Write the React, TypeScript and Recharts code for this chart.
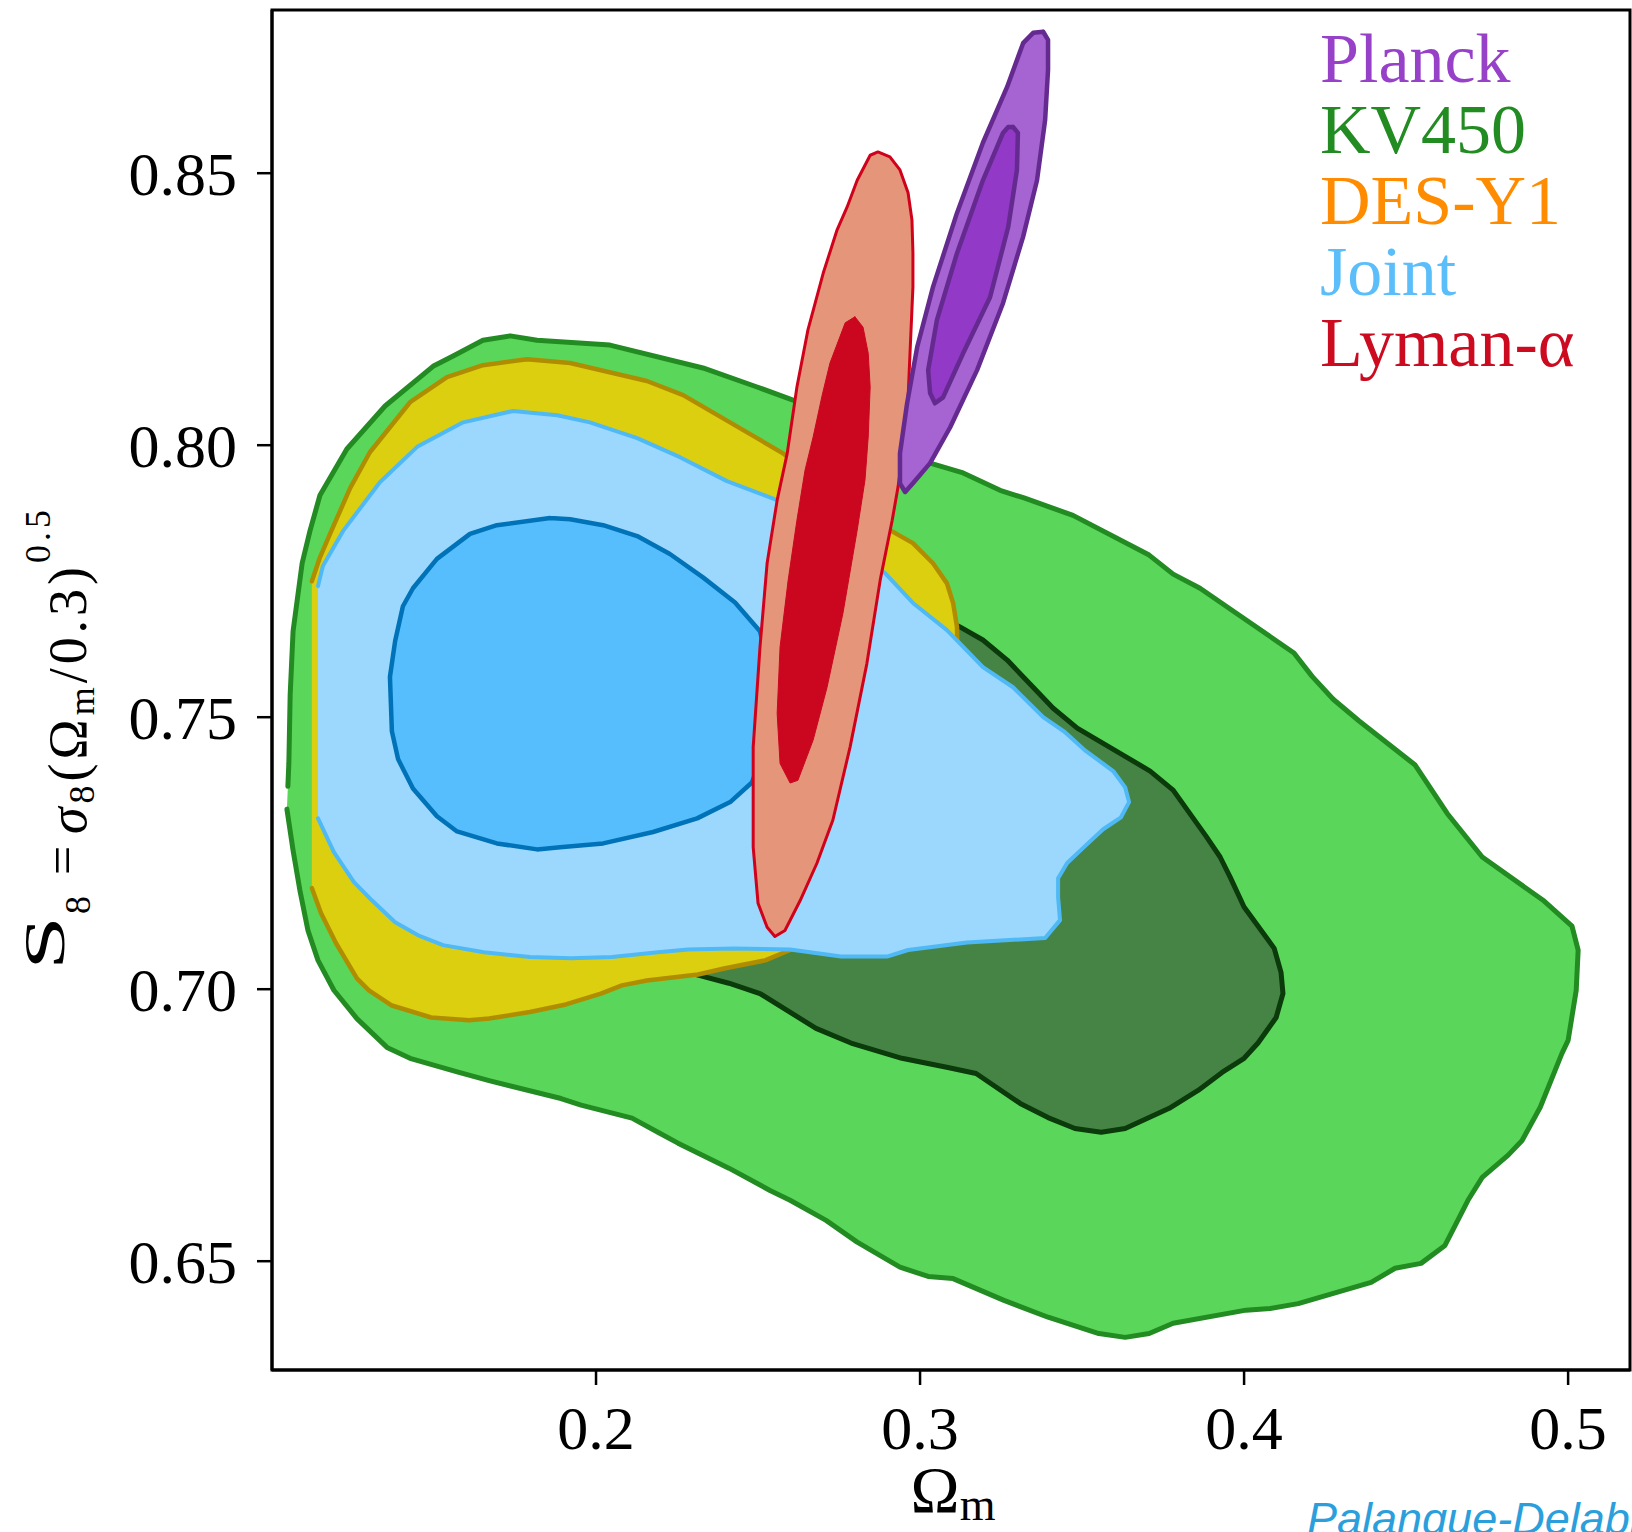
import React from 'react';
import { ScatterChart, Scatter, XAxis, YAxis, ReferenceArea, Legend } from 'recharts';

type P = [number, number];

// KV450 outer (2 sigma) contour, starts/ends at the small gap on the left edge
const kv450Outer: P[] = [
  [0.1046, 0.7331], [0.1065, 0.7255], [0.1086, 0.7182], [0.1111, 0.7108], [0.1142, 0.7053], [0.1191, 0.6998],
  [0.1262, 0.6946], [0.1355, 0.6893], [0.1426, 0.6873], [0.1577, 0.6847], [0.167, 0.6832], [0.1892, 0.6799],
  [0.1954, 0.6787], [0.2111, 0.6763], [0.2191, 0.6737], [0.2253, 0.6717], [0.241, 0.6671], [0.2537, 0.663],
  [0.2599, 0.6612], [0.271, 0.6575], [0.2806, 0.6535], [0.2938, 0.6489], [0.3025, 0.6472], [0.3102, 0.6468],
  [0.3259, 0.6428], [0.3395, 0.6397], [0.3552, 0.6367], [0.3633, 0.636], [0.3707, 0.6367], [0.3781, 0.6386],
  [0.4006, 0.641], [0.408, 0.6413], [0.4167, 0.6422], [0.4392, 0.6461], [0.4466, 0.6487], [0.4546, 0.6496],
  [0.462, 0.6529], [0.4691, 0.6612], [0.4735, 0.6654], [0.4815, 0.6695], [0.4858, 0.6722], [0.4914, 0.6783],
  [0.4981, 0.6882], [0.5, 0.6906], [0.5025, 0.6998], [0.5031, 0.7072], [0.5012, 0.7116], [0.4926, 0.7162],
  [0.4735, 0.7243], [0.4627, 0.7323], [0.4528, 0.7412], [0.4355, 0.7493], [0.4275, 0.7533], [0.421, 0.7575],
  [0.4154, 0.7618], [0.3957, 0.7699], [0.3864, 0.7737], [0.3781, 0.7763], [0.3707, 0.7798], [0.3472, 0.7871],
  [0.3321, 0.7903], [0.3247, 0.7917], [0.3133, 0.7949], [0.3031, 0.7967], [0.2929, 0.7987], [0.2608, 0.8083],
  [0.2497, 0.8107], [0.233, 0.8142], [0.2043, 0.8184], [0.1818, 0.8193], [0.1735, 0.8201], [0.1651, 0.8193],
  [0.1559, 0.8164], [0.1497, 0.8145], [0.1349, 0.8072], [0.1231, 0.7993], [0.1148, 0.7908], [0.1117, 0.7842],
  [0.1093, 0.7783], [0.1065, 0.7658], [0.1056, 0.754], [0.1052, 0.7415], [0.1049, 0.7373],
];

// KV450 inner (1 sigma) contour
const kv450Inner: P[] = [
  [0.2722, 0.7715], [0.3006, 0.7702], [0.3123, 0.7666], [0.3194, 0.7642], [0.3269, 0.7605], [0.3349, 0.7555],
  [0.341, 0.7517], [0.3485, 0.748], [0.3633, 0.7428], [0.371, 0.7401], [0.3781, 0.7366], [0.3883, 0.7281],
  [0.3926, 0.7243], [0.3957, 0.7206], [0.4, 0.7151], [0.4093, 0.7075], [0.4114, 0.7031], [0.412, 0.6992],
  [0.4099, 0.6948], [0.4043, 0.6901], [0.4, 0.6873], [0.3932, 0.6847], [0.3858, 0.6814], [0.3769, 0.6781],
  [0.3633, 0.6744], [0.3559, 0.6737], [0.3478, 0.6744], [0.3395, 0.6764], [0.3309, 0.679], [0.3173, 0.6845],
  [0.3086, 0.6856], [0.2944, 0.6873], [0.2787, 0.6901], [0.2679, 0.6928], [0.2506, 0.6992], [0.241, 0.7011],
  [0.2315, 0.7026], [0.2136, 0.706], [0.1951, 0.7108], [0.1796, 0.72], [0.175, 0.7347], [0.1827, 0.7476],
  [0.2012, 0.7568], [0.2321, 0.766],
];

// DES-Y1 outer contour (open at the prior edge on the left)
const desOuter: P[] = [
  [0.1123, 0.775], [0.1148, 0.7794], [0.1179, 0.7837], [0.1241, 0.7921], [0.1302, 0.7987], [0.1426, 0.8079],
  [0.154, 0.8125], [0.1651, 0.8147], [0.1787, 0.8158], [0.192, 0.8151], [0.2157, 0.8118], [0.2269, 0.8092],
  [0.2497, 0.8013], [0.2577, 0.7985], [0.2892, 0.7849], [0.2978, 0.782], [0.304, 0.7783], [0.3083, 0.7746],
  [0.3102, 0.771], [0.3114, 0.7666], [0.3117, 0.7568], [0.3062, 0.7421], [0.2938, 0.7255], [0.2784, 0.7145],
  [0.2599, 0.7072], [0.2522, 0.7053], [0.2395, 0.7038], [0.2315, 0.7027], [0.2157, 0.7016], [0.208, 0.7007],
  [0.2015, 0.6992], [0.1907, 0.6972], [0.1796, 0.6958], [0.167, 0.6946], [0.1608, 0.6943], [0.1491, 0.6948],
  [0.137, 0.697], [0.1299, 0.6998], [0.1262, 0.702], [0.1198, 0.7084], [0.1151, 0.714], [0.1123, 0.7186],
];

// Joint outer contour (open at the prior edge on the left)
const jointOuter: P[] = [
  [0.1142, 0.7741], [0.1157, 0.7778], [0.1219, 0.7842], [0.1333, 0.7932], [0.1448, 0.7997], [0.159, 0.8042],
  [0.1744, 0.8063], [0.188, 0.8055], [0.1981, 0.8042], [0.2127, 0.8013], [0.2259, 0.7978], [0.2404, 0.7934],
  [0.2559, 0.7899], [0.2722, 0.7835], [0.2892, 0.7765], [0.2978, 0.771], [0.3083, 0.766], [0.3194, 0.7592],
  [0.3287, 0.7555], [0.338, 0.75], [0.3444, 0.7474], [0.3509, 0.7439], [0.3596, 0.7401], [0.3633, 0.7371],
  [0.3645, 0.7344], [0.362, 0.7316], [0.3565, 0.7294], [0.3509, 0.7263], [0.3454, 0.7232], [0.3426, 0.7204],
  [0.3426, 0.7169], [0.3432, 0.7127], [0.3386, 0.7094], [0.3145, 0.7086], [0.2963, 0.7072], [0.2898, 0.706],
  [0.2756, 0.706], [0.2599, 0.7073], [0.2426, 0.7075], [0.2284, 0.7073], [0.2191, 0.7068], [0.2049, 0.7059],
  [0.1923, 0.7057], [0.1796, 0.7059], [0.1654, 0.7068], [0.1528, 0.7081], [0.1451, 0.7099], [0.138, 0.7123],
  [0.1309, 0.7163], [0.1253, 0.7197], [0.1191, 0.7252], [0.1142, 0.7314],
];

// Joint inner contour
const jointInner: P[] = [
  [0.1858, 0.7866], [0.192, 0.7864], [0.2022, 0.7853], [0.2127, 0.7833], [0.2228, 0.78], [0.233, 0.7757],
  [0.2429, 0.7711], [0.2506, 0.7658], [0.2543, 0.7568], [0.2531, 0.7458], [0.2481, 0.738], [0.2414, 0.7344],
  [0.2312, 0.7314], [0.2176, 0.7289], [0.2022, 0.7268], [0.1889, 0.7261], [0.1818, 0.7257], [0.1694, 0.7268],
  [0.1571, 0.729], [0.1509, 0.7318], [0.1435, 0.7369], [0.1389, 0.7423], [0.137, 0.7474], [0.1364, 0.7574],
  [0.138, 0.764], [0.1404, 0.7704], [0.1435, 0.7737], [0.1509, 0.7791], [0.1611, 0.7837], [0.1694, 0.7853],
];

// Lyman-alpha outer contour
const lyaOuter: P[] = [
  [0.287, 0.8539], [0.2907, 0.853], [0.2938, 0.8506], [0.2963, 0.8464], [0.2975, 0.8414], [0.2978, 0.8353],
  [0.2978, 0.8291], [0.2969, 0.8169], [0.296, 0.8046], [0.2932, 0.7923], [0.2914, 0.7862], [0.2877, 0.7752],
  [0.2836, 0.7599], [0.2784, 0.7445], [0.2731, 0.7311], [0.2682, 0.7232], [0.263, 0.7163], [0.2583, 0.7108],
  [0.2552, 0.7097], [0.2528, 0.7114], [0.25, 0.7158], [0.2485, 0.7261], [0.2485, 0.7445], [0.2506, 0.7629],
  [0.2528, 0.7783], [0.2559, 0.7899], [0.259, 0.7985], [0.262, 0.8107], [0.2654, 0.8212], [0.2701, 0.8316],
  [0.2744, 0.8396], [0.2775, 0.8438], [0.2806, 0.8487], [0.2846, 0.8533],
];

// Lyman-alpha inner contour
const lyaInner: P[] = [
  [0.2799, 0.8236], [0.2824, 0.8217], [0.284, 0.8169], [0.2846, 0.8107], [0.284, 0.8015], [0.283, 0.7936],
  [0.2806, 0.7844], [0.2762, 0.7691], [0.2713, 0.7555], [0.267, 0.7458], [0.2623, 0.7384], [0.2599, 0.7379],
  [0.2568, 0.7415], [0.2559, 0.7507], [0.2568, 0.7629], [0.2593, 0.7752], [0.262, 0.7862], [0.2645, 0.7954],
  [0.267, 0.8015], [0.2698, 0.8092], [0.2722, 0.8151], [0.2769, 0.8225],
];

// Planck outer contour
const planckOuter: P[] = [
  [0.338, 0.876], [0.3395, 0.8745], [0.3395, 0.869], [0.3386, 0.8598], [0.3361, 0.8487], [0.3318, 0.8383],
  [0.3256, 0.8261], [0.3176, 0.8138], [0.3093, 0.8033], [0.3031, 0.7967], [0.2978, 0.793], [0.2954, 0.7914],
  [0.2938, 0.793], [0.2938, 0.7985], [0.296, 0.8077], [0.2991, 0.818], [0.304, 0.8291], [0.3114, 0.8427],
  [0.3194, 0.8556], [0.3269, 0.8659], [0.3318, 0.8739], [0.3349, 0.8758],
];

// Planck inner contour
const planckInner: P[] = [
  [0.3287, 0.8585], [0.3302, 0.8574], [0.3299, 0.8506], [0.3272, 0.8401], [0.3216, 0.8272], [0.3133, 0.8169],
  [0.3071, 0.8088], [0.3046, 0.8077], [0.3031, 0.8096], [0.3025, 0.8138], [0.3052, 0.823], [0.3114, 0.8353],
  [0.3194, 0.8487], [0.3256, 0.8574], [0.3272, 0.8585],
];

const xTicks = [0.2, 0.3, 0.4, 0.5];
const yTicks = [0.65, 0.7, 0.75, 0.8, 0.85];
const xDomain: [number, number] = [0.1, 0.5191];
const yDomain: [number, number] = [0.63, 0.88];

const legendNames = ['Planck', 'KV450', 'DES-Y1', 'Joint', 'Lyman-\u03b1'];
const legendColors = ['#9741c9', '#228b22', '#ff8c00', '#5bbefb', '#cc0a20'];

const FONT = "'Liberation Serif', 'DejaVu Serif', serif";

const pts = (a: P[], close: boolean) => {
  const o = a.map(([x, y]) => ({ x, y }));
  if (close) o.push({ x: a[0][0], y: a[0][1] });
  return o;
};

const layers = [
  { name: 'kv450-2s', data: kv450Outer, closed: false, fill: '#5ad75a', stroke: '#228b22', sw: 5 },
  { name: 'kv450-1s', data: kv450Inner, closed: true, fill: '#468446', stroke: '#0b3a0b', sw: 5 },
  { name: 'des-2s', data: desOuter, closed: false, fill: '#dccf10', stroke: '#b08d00', sw: 4.5 },
  { name: 'joint-2s', data: jointOuter, closed: false, fill: '#9cd8fd', stroke: '#4fb9f5', sw: 4 },
  { name: 'joint-1s', data: jointInner, closed: true, fill: '#56befd', stroke: '#0072b8', sw: 4.5 },
  { name: 'lya-2s', data: lyaOuter, closed: true, fill: '#e5957a', stroke: '#d0021b', sw: 3 },
  { name: 'lya-1s', data: lyaInner, closed: true, fill: '#cb061f', stroke: '#cb061f', sw: 1 },
  { name: 'planck-2s', data: planckOuter, closed: true, fill: '#a663d2', stroke: '#652a90', sw: 4.5 },
  { name: 'planck-1s', data: planckInner, closed: true, fill: '#9239c8', stroke: '#652a90', sw: 4.5 },
];

const hiddenShape = () => <g />;

const XLabel = (props: any) => {
  const vb = props.viewBox || { x: 272, y: 1370, width: 1358 };
  const cx = vb.x + vb.width / 2 + 2;
  return (
    <text x={cx} y={vb.y + 142} textAnchor="middle" fontFamily={FONT} fontSize={66} fill="#000">
      {'\u03a9'}
      <tspan fontSize={46} dy={8}>m</tspan>
    </text>
  );
};

const rot = (x: number, y: number) => `rotate(-90, ${x}, ${y})`;

const YLabel = () => {
  const bx = 86;
  const by = 834;
  return (
    <g fill="#000" fontFamily={FONT}>
      <text x={64} y={970} transform={rot(64, 970)} fontSize={56} textLength={54} lengthAdjust="spacingAndGlyphs">
        S
      </text>
      <text x={90} y={914} transform={rot(90, 914)} fontSize={36}>
        8
      </text>
      <text x={80} y={875} transform={rot(80, 875)} fontSize={52}>
        =
      </text>
      <text x={bx} y={by} transform={rot(bx, by)} fontSize={54} textLength={324} lengthAdjust="spacing">
        <tspan fontStyle="italic">{'\u03c3'}</tspan>
        <tspan fontSize={36} dy={8}>8</tspan>
        <tspan dy={-8}>{'(\u03a9'}</tspan>
        <tspan fontSize={36} dy={8}>m</tspan>
        <tspan dy={-8}>/0.3)</tspan>
        <tspan fontSize={36} dy={-36}>0.5</tspan>
      </text>
    </g>
  );
};

const LegendContent = () => (
  <div style={{ fontFamily: FONT, fontSize: 70, lineHeight: '71px' }}>
    {legendNames.map((n, i) => (
      <div key={n} style={{ color: legendColors[i], whiteSpace: 'nowrap' }}>
        {n}
      </div>
    ))}
  </div>
);

export default function App() {
  return (
    <div
      style={{
        position: 'absolute',
        left: 0,
        top: 0,
        width: 1632,
        height: 1532,
        overflow: 'hidden',
        background: '#fff',
      }}
    >
      <ScatterChart width={1632} height={1532} margin={{ top: 10, right: 2, bottom: 0, left: 0 }}>
        <XAxis
          type="number"
          dataKey="x"
          domain={xDomain}
          allowDataOverflow
          ticks={xTicks}
          interval={0}
          tickFormatter={(v: number) => v.toFixed(1)}
          height={162}
          tickSize={15}
          tickMargin={20}
          axisLine={{ stroke: '#000', strokeWidth: 3 }}
          tickLine={{ stroke: '#000', strokeWidth: 2.5 }}
          tick={{ fill: '#000', fontSize: 62, fontFamily: FONT }}
          label={(p: any) => <XLabel {...p} />}
        />
        <YAxis
          type="number"
          dataKey="y"
          domain={yDomain}
          allowDataOverflow
          ticks={yTicks}
          interval={0}
          tickFormatter={(v: number) => v.toFixed(2)}
          width={272}
          tickSize={15}
          tickMargin={20}
          axisLine={{ stroke: '#000', strokeWidth: 3 }}
          tickLine={{ stroke: '#000', strokeWidth: 2.5 }}
          tick={{ fill: '#000', fontSize: 62, fontFamily: FONT }}
          label={() => <YLabel />}
        />
        {layers.map((l) => (
          <Scatter
            key={l.name}
            name={l.name}
            data={pts(l.data, l.closed)}
            fill={l.fill}
            isAnimationActive={false}
            legendType="none"
            lineType="joint"
            lineJointType="linear"
            line={{ fill: l.fill, stroke: l.stroke, strokeWidth: l.sw, strokeLinejoin: 'round', strokeLinecap: 'round' }}
            shape={hiddenShape}
          />
        ))}
        <ReferenceArea
          x1={xDomain[0]}
          x2={xDomain[1]}
          y1={yDomain[0]}
          y2={yDomain[1]}
          fill="none"
          fillOpacity={0}
          stroke="#000"
          strokeWidth={3}
          ifOverflow="visible"
        />
        <Legend
          layout="vertical"
          align="center"
          verticalAlign="middle"
          wrapperStyle={{ position: 'absolute', top: 23, left: 1320, width: 310 }}
          content={() => <LegendContent />}
        />
      </ScatterChart>
      <div
        style={{
          position: 'absolute',
          left: 1307,
          top: 1497,
          fontFamily: "'Liberation Sans', Arial, sans-serif",
          fontStyle: 'italic',
          fontSize: 45,
          lineHeight: '44px',
          color: '#2b9fdc',
          whiteSpace: 'nowrap',
        }}
      >
        Palanque-Delabrouille
      </div>
    </div>
  );
}
